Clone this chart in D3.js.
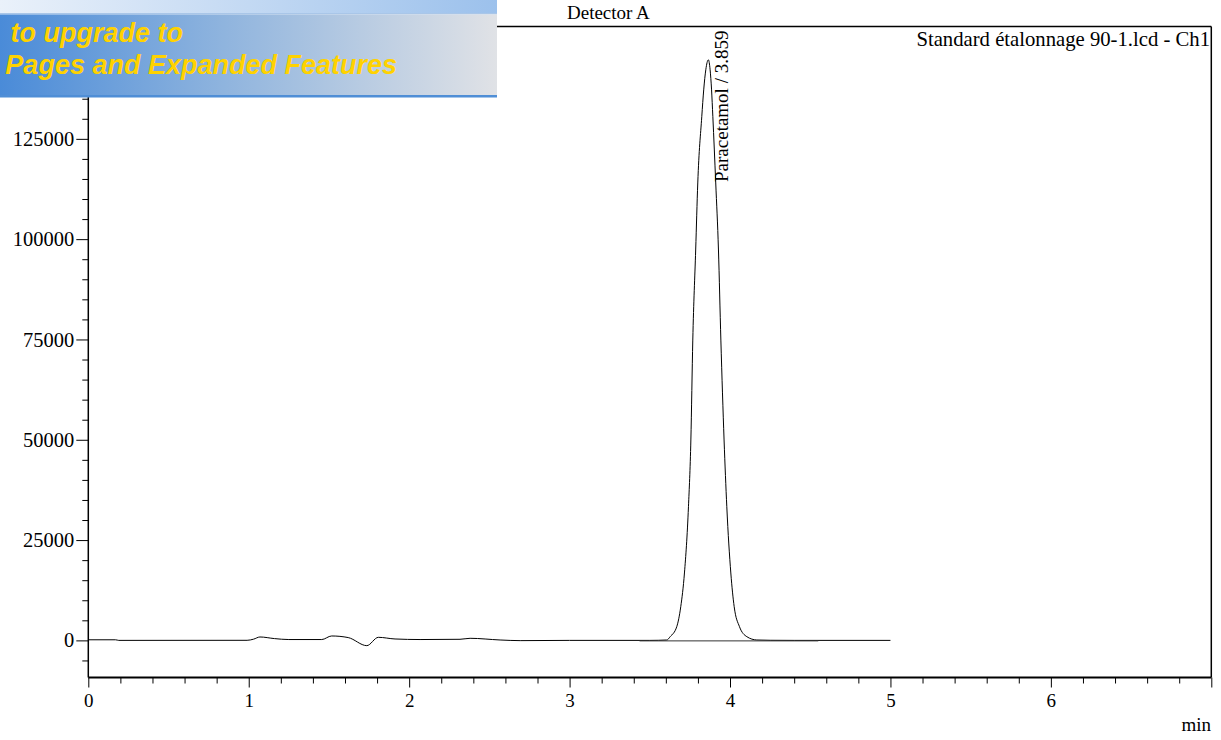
<!DOCTYPE html>
<html>
<head>
<meta charset="utf-8">
<script src="https://cdn.jsdelivr.net/npm/d3@7"></script>
<style>
  body { margin: 0; background: #fff; }
  svg { display: block; }
  .serif { font-family: "Liberation Serif", "Times New Roman", serif; fill: #000; }
  .banner-text { font-family: "Liberation Sans", Arial, sans-serif; font-weight: bold; font-style: italic; fill: #ffd200; }
</style>
</head>
<body>
<svg id="chart"></svg>
<script>
"use strict";

// retention time (min) and detector signal
const trace_time = [0, 0.17, 0.19, 0.99, 1.03, 1.07, 1.16, 1.25, 1.455, 1.517, 1.62, 1.736, 1.808, 1.912,
    2.068, 2.317, 2.38, 2.567, 2.692, 3.0, 3.5, 3.606, 3.627, 3.668, 3.693, 3.716, 3.741, 3.756, 3.768,
    3.786, 3.799, 3.824, 3.836, 3.849, 3.865, 3.876, 3.885, 3.893, 3.911, 3.928, 3.943, 3.963, 3.98,
    4.005, 4.026, 4.059, 4.105, 4.167, 4.25, 4.4, 5.0];
const trace_signal = [150, 150, 0, 20, 300, 850, 450, 210, 210, 1100, 700, -1310, 765, 350,
    210, 275, 520, 100, -60, 0, 0, 100, 920, 3415, 8400, 16800, 33320, 49950, 74850,
    97300, 114000, 130520, 137200, 142200, 144700, 142200, 137200, 130520, 114000, 97300, 74850, 49950, 33320,
    16800, 8400, 3415, 920, 100, 30, 0, 0];

// integration baseline under the peak
const baseline_time = [3.436, 4.55];
const baseline_signal = [0, 0];

const peak_label = "Paracetamol / 3.859";
const peak_label_time = 3.859;

const x_major = [0, 1, 2, 3, 4, 5, 6, 7];
const x_labels = ["0", "1", "2", "3", "4", "5", "6", ""];
const y_major = [0, 25000, 50000, 75000, 100000, 125000];

const WIDTH = 1221, HEIGHT = 740;
const svg = d3.select("#chart").attr("width", WIDTH).attr("height", HEIGHT);

const xScale = d3.scaleLinear().domain([0, 7]).range([88.3, 1211.3]);
const yScale = d3.scaleLinear().domain([-9250, 153000]).range([677.5, 26.5]);

const x_minor = d3.range(0, 7.001, 0.2).filter(v => Math.abs(v - Math.round(v)) > 1e-6);
const y_minor = d3.range(-5000, 150001, 5000).filter(v => v % 25000 !== 0);

// frame top and right
svg.append("line")
    .attr("x1", xScale(0)).attr("x2", xScale(7))
    .attr("y1", yScale.range()[1]).attr("y2", yScale.range()[1])
    .attr("stroke", "#000").attr("stroke-width", 1.5);
svg.append("line")
    .attr("x1", xScale(7)).attr("x2", xScale(7))
    .attr("y1", yScale.range()[1]).attr("y2", yScale.range()[0])
    .attr("stroke", "#000").attr("stroke-width", 1.5);

// x axis
const gx = svg.append("g").attr("transform", `translate(0,${yScale.range()[0]})`);
gx.append("g")
    .call(d3.axisBottom(xScale).tickValues(x_minor).tickSize(6).tickFormat(""))
    .call(g => g.select(".domain").remove());
gx.append("g")
    .call(d3.axisBottom(xScale).tickValues(x_major).tickSize(10).tickPadding(6.5)
        .tickFormat((d, i) => x_labels[i]))
    .call(g => g.select(".domain").attr("stroke-width", 2).attr("d", `M${xScale(0)},0H${xScale(7)}`));

// y axis
const gy = svg.append("g").attr("transform", `translate(${xScale(0)},0)`);
gy.append("g")
    .call(d3.axisLeft(yScale).tickValues(y_minor).tickSize(6).tickFormat(""))
    .call(g => g.select(".domain").remove());
gy.append("g")
    .call(d3.axisLeft(yScale).tickValues(y_major).tickSize(12).tickPadding(2).tickFormat(d3.format("d")))
    .call(g => g.select(".domain").attr("stroke-width", 1.5)
        .attr("d", `M0,${yScale.range()[0]}V${yScale.range()[1]}`));

svg.selectAll(".tick text")
    .attr("class", "serif")
    .attr("font-size", 19)
    .attr("fill", "#000");
gy.selectAll(".tick text").attr("font-size", 20.5);
svg.selectAll(".tick line").attr("stroke", "#000");

// chromatogram
const line = d3.line()
    .x(i => xScale(trace_time[i]))
    .y(i => yScale(trace_signal[i]))
    .curve(d3.curveMonotoneX);
svg.append("path")
    .attr("d", line(d3.range(trace_time.length)))
    .attr("fill", "none")
    .attr("stroke", "#000")
    .attr("stroke-width", 1);

svg.append("path")
    .attr("d", d3.line()(baseline_time.map((t, i) => [xScale(t), yScale(baseline_signal[i]) + 0.5])))
    .attr("fill", "none")
    .attr("stroke", "#333")
    .attr("stroke-width", 1);

// peak label
svg.append("text")
    .attr("class", "serif")
    .attr("transform", `translate(${xScale(peak_label_time) + 21},182) rotate(-90)`)
    .attr("font-size", 19)
    .text(peak_label);

svg.append("text")
    .attr("class", "serif")
    .attr("x", 567).attr("y", 19)
    .attr("font-size", 19)
    .text("Detector A");
svg.append("text")
    .attr("class", "serif")
    .attr("x", 1210).attr("y", 46)
    .attr("text-anchor", "end")
    .attr("font-size", 20.7)
    .text("Standard étalonnage 90-1.lcd - Ch1");
svg.append("text")
    .attr("class", "serif")
    .attr("x", 1211).attr("y", 731)
    .attr("text-anchor", "end")
    .attr("font-size", 19)
    .text("min");

// watermark banner in the top left corner
const defs = svg.append("defs");
const g_top = defs.append("linearGradient").attr("id", "band-top");
g_top.append("stop").attr("offset", "0%").attr("stop-color", "#eaf1fa");
g_top.append("stop").attr("offset", "100%").attr("stop-color", "#9cc1ec");
const g_main = defs.append("linearGradient").attr("id", "band-main");
g_main.append("stop").attr("offset", "0%").attr("stop-color", "#4a8bd8");
g_main.append("stop").attr("offset", "45%").attr("stop-color", "#8fb4de");
g_main.append("stop").attr("offset", "100%").attr("stop-color", "#e0e2e6");

const banner = svg.append("g");
banner.append("rect").attr("x", 0).attr("y", 0).attr("width", 497).attr("height", 14)
    .attr("fill", "url(#band-top)");
banner.append("rect").attr("x", 0).attr("y", 13).attr("width", 497).attr("height", 1.5)
    .attr("fill", "#a9c6e8");
banner.append("rect").attr("x", 0).attr("y", 14.5).attr("width", 497).attr("height", 81)
    .attr("fill", "url(#band-main)");
banner.append("rect").attr("x", 0).attr("y", 95).attr("width", 497).attr("height", 2.5)
    .attr("fill", "#4f8ed6");
banner.append("text")
    .attr("class", "banner-text")
    .attr("x", 183).attr("y", 42)
    .attr("text-anchor", "end")
    .attr("font-size", 27)
    .text("to upgrade to");
banner.append("text")
    .attr("class", "banner-text")
    .attr("x", 397).attr("y", 74)
    .attr("text-anchor", "end")
    .attr("font-size", 27)
    .text("Pages and Expanded Features");
</script>
</body>
</html>
